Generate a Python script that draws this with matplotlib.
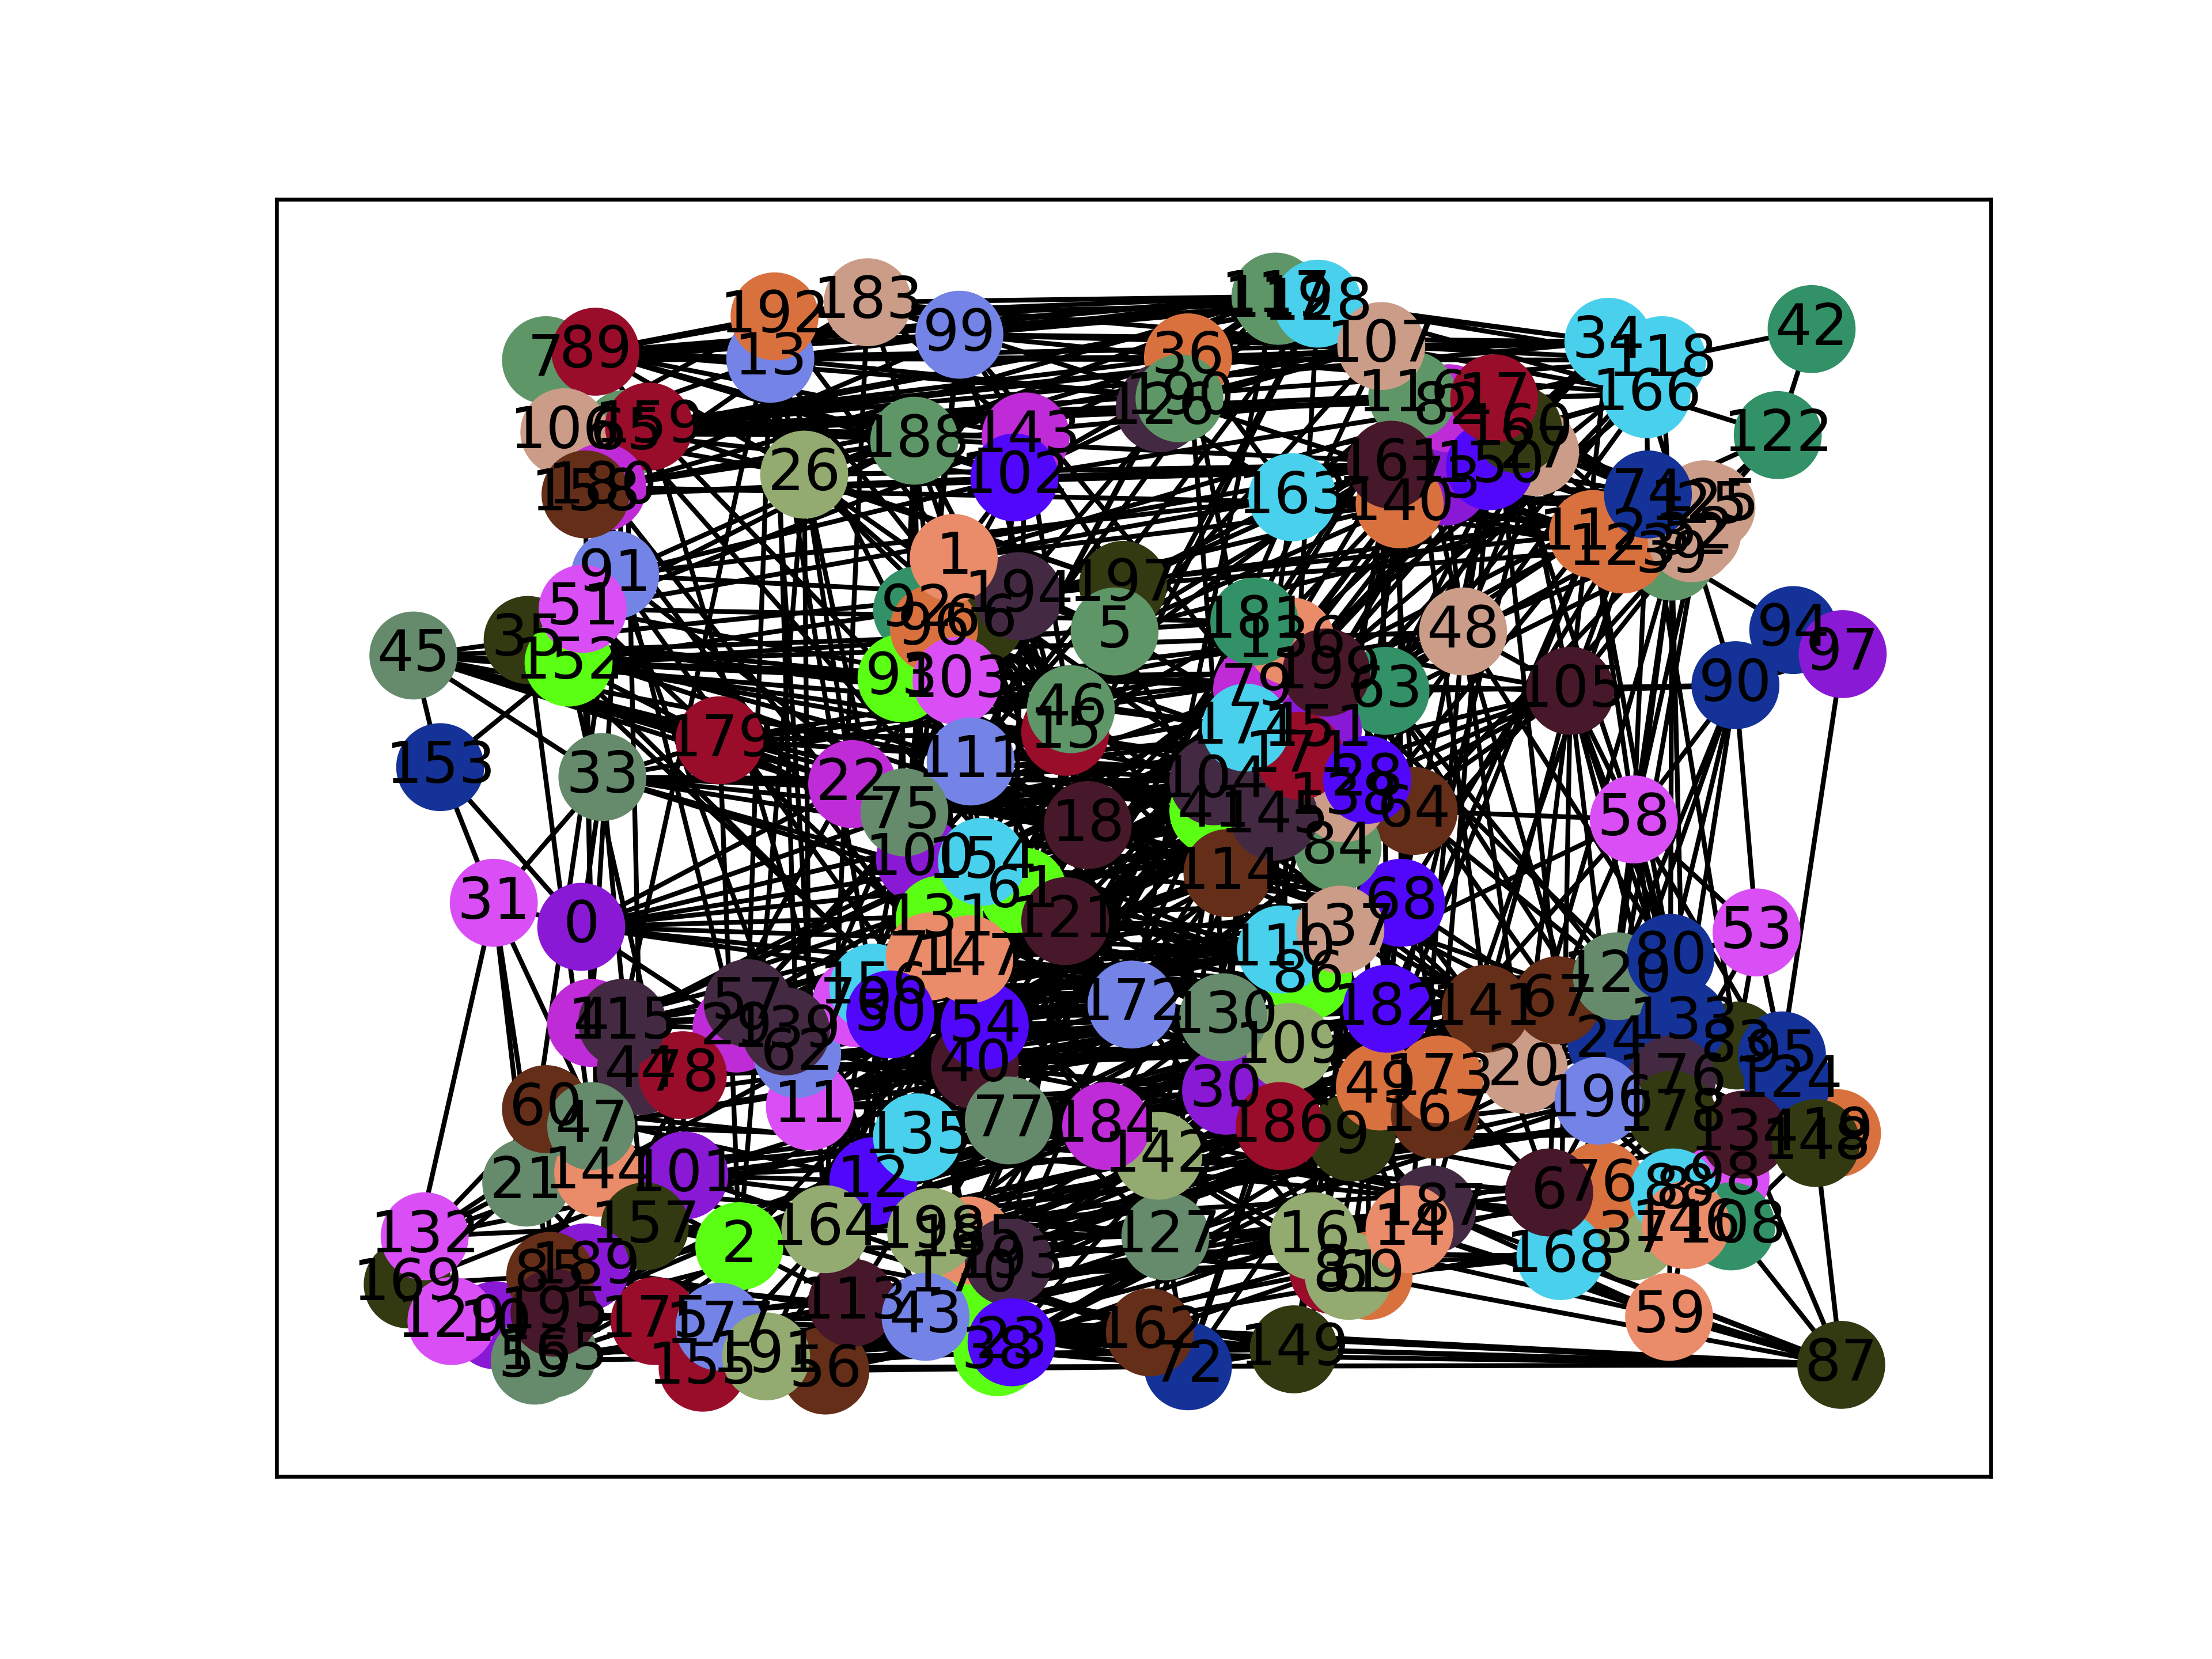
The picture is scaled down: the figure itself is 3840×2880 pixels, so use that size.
import matplotlib
matplotlib.use("Agg")
import matplotlib.pyplot as plt
from matplotlib.collections import LineCollection

# node centres (x to the right, y downwards, frame 196..1411 x 142..1046)
node_x = [
    412, 676, 524, 945, 419, 790, 1098, 387, 1186, 958,
    351, 574, 619, 546, 999, 755, 931, 1059, 771, 1302,
    1080, 373, 604, 717, 1142, 1213, 570, 1088, 969, 522,
    869, 350, 1199, 427, 1140, 374, 842, 1158, 707, 1185,
    691, 860, 1284, 656, 454, 293, 759, 419, 1037, 978,
    631, 413, 1203, 1245, 698, 379, 585, 530, 1158, 1183,
    387, 725, 565, 982, 1002, 444, 695, 1104, 993, 970,
    607, 659, 842, 1024, 1168, 641, 1135, 715, 484, 891,
    1184, 956, 1027, 1231, 948, 390, 927, 1305, 1190, 422,
    1230, 436, 650, 639, 1271, 1263, 662, 1306, 1223, 680,
    652, 485, 719, 678, 860, 1113, 400, 979, 1227, 914,
    908, 688, 1129, 604, 870, 441, 1001, 904, 1178, 906,
    1146, 755, 1260, 1150, 1267, 1208, 822, 826, 934, 320,
    867, 666, 301, 1193, 1236, 650, 915, 950, 952, 557,
    992, 1053, 821, 727, 424, 903, 1195, 687, 1287, 917,
    1056, 934, 403, 312, 696, 498, 619, 457, 415, 460,
    1076, 986, 815, 916, 585, 392, 1167, 1017, 1106, 289,
    683, 921, 802, 1020, 883, 464, 1185, 510, 1185, 510,
    427, 889, 983, 615, 784, 687, 907, 1015, 648, 415,
    836, 543, 549, 715, 722, 393, 1133, 796, 660, 940,
]
node_y = [
    657, 396, 883, 900, 725, 448, 845, 256, 845, 806,
    939, 784, 837, 255, 871, 519, 876, 283, 585, 803,
    758, 838, 556, 951, 738, 360, 337, 321, 553, 729,
    773, 640, 382, 551, 243, 454, 254, 876, 958, 395,
    755, 575, 234, 933, 759, 465, 503, 798, 448, 770,
    719, 432, 378, 661, 727, 964, 971, 711, 581, 933,
    786, 632, 747, 490, 575, 308, 440, 709, 640, 904,
    711, 678, 968, 342, 351, 576, 840, 794, 762, 489,
    679, 904, 290, 741, 601, 904, 692, 967, 843, 250,
    486, 408, 433, 481, 447, 748, 446, 464, 835, 238,
    609, 833, 339, 483, 554, 490, 307, 246, 869, 742,
    673, 540, 379, 923, 619, 725, 281, 211, 256, 214,
    692, 653, 309, 390, 766, 358, 290, 876, 216, 936,
    721, 652, 876, 725, 804, 806, 455, 659, 566, 731,
    358, 715, 819, 310, 831, 579, 868, 680, 810, 956,
    331, 518, 470, 544, 611, 969, 700, 869, 351, 303,
    305, 330, 944, 353, 871, 959, 280, 790, 890, 910,
    904, 536, 712, 765, 516, 936, 765, 940, 790, 525,
    346, 441, 715, 215, 798, 879, 798, 857, 313, 898,
    283, 961, 225, 894, 423, 930, 780, 415, 873, 477,
]

palette = {
    "sage": "#5f9668", "grey": "#668b6c", "crimson": "#990d2b", "tan": "#cb9d88",
    "brown": "#642e19", "magenta": "#bf2bd6", "peri": "#7383e6", "pink": "#d94ff5",
    "olive": "#333a12", "green": "#5aff14", "navy": "#143297", "orange": "#d9713f",
    "lolive": "#93aa70", "violet": "#5108fa", "salmon": "#ea8c6a", "sea": "#329166",
    "cyan": "#48d0ec", "plumA": "#432a42", "plumB": "#46182a", "purple": "#8a19d6",
}
node_color = [
    "purple", "salmon", "green", "crimson", "magenta", "sage", "plumB", "sage", "cyan", "olive",
    "purple", "pink", "violet", "peri", "salmon", "crimson", "lolive", "crimson", "plumB", "orange",
    "tan", "grey", "magenta", "violet", "navy", "tan", "lolive", "tan", "violet", "magenta",
    "purple", "pink", "tan", "grey", "cyan", "olive", "orange", "lolive", "green", "sage",
    "plumB", "green", "sea", "peri", "plumA", "grey", "sage", "grey", "tan", "orange",
    "violet", "pink", "tan", "pink", "violet", "grey", "brown", "plumA", "pink", "salmon",
    "brown", "green", "peri", "sea", "brown", "sage", "olive", "brown", "violet", "orange",
    "pink", "salmon", "navy", "purple", "navy", "grey", "orange", "grey", "crimson", "magenta",
    "navy", "lolive", "magenta", "olive", "sage", "brown", "green", "olive", "cyan", "crimson",
    "navy", "peri", "sea", "green", "navy", "navy", "orange", "purple", "pink", "peri",
    "purple", "purple", "violet", "pink", "plumA", "plumB", "tan", "tan", "sea", "lolive",
    "cyan", "peri", "orange", "plumB", "brown", "plumA", "sage", "sage", "cyan", "sage",
    "grey", "plumB", "sea", "orange", "navy", "tan", "plumA", "grey", "cyan", "pink",
    "grey", "green", "pink", "navy", "plumB", "cyan", "salmon", "tan", "tan", "plumA",
    "orange", "brown", "lolive", "magenta", "salmon", "plumA", "salmon", "salmon", "olive", "olive",
    "violet", "purple", "green", "navy", "cyan", "crimson", "cyan", "olive", "brown", "crimson",
    "olive", "plumB", "brown", "cyan", "lolive", "grey", "cyan", "brown", "cyan", "olive",
    "green", "crimson", "peri", "orange", "cyan", "crimson", "plumA", "peri", "olive", "crimson",
    "magenta", "sea", "violet", "tan", "magenta", "salmon", "crimson", "plumA", "sage", "purple",
    "sage", "lolive", "orange", "plumA", "plumA", "plumB", "peri", "olive", "lolive", "plumB",
]

# nodes that sit above their neighbours in the picture, drawn last in this order
on_top = [51, 47, 102, 1, 5, 75, 71, 50, 28, 80, 32, 74, 17, 161, 107, 158,
          85, 195, 132, 129, 43, 23, 14, 6, 8, 146]

# edges, grouped by one end
neighbours = [
    (0, [33, 68, 110, 22, 172]), (1, [140, 56, 18, 163, 5]), (2, [164, 12, 135, 144, 67]),
    (3, [162, 149, 184, 171]), (4, [115, 139, 65, 77]), (5, [197, 150, 46, 28]),
    (6, [196, 141, 173, 178]), (7, [89, 106, 99, 183, 36]), (8, [98, 134, 146, 176]),
    (9, [186, 30, 109, 64]), (10, [129, 189, 113, 101]), (11, [57, 135, 40, 105]),
    (12, [43, 198, 18, 182]), (13, [192, 99, 26, 111]), (14, [187, 16, 137, 3]),
    (15, [46, 179, 138, 110]), (16, [81, 69, 172, 199]), (17, [116, 107, 82, 74]),
    (18, [121, 61, 84, 151]), (19, [148, 124, 20, 134]), (20, [196, 167, 68, 133]),
    (21, [144, 60, 157, 2]), (22, [75, 179, 151, 86]), (23, [38, 193, 167, 24]),
    (24, [133, 95, 176, 63]), (25, [125, 112, 163]), (26, [188, 22, 15, 197]),
    (27, [160, 150, 140, 39]), (28, [138, 64, 182, 179]), (29, [57, 139, 0, 110]),
    (30, [186, 142, 20, 174]), (31, [153, 0, 33, 85, 21, 157, 169]), (32, [52, 125, 39, 140]),
    (33, [179, 121, 104]), (34, [118, 166, 117, 107, 99]), (35, [152, 51, 111, 18]),
    (36, [190, 117, 13, 163]), (37, [146, 8, 77, 184]), (38, [23, 185, 9, 68]),
    (39, [112, 74, 120, 80]), (40, [54, 77, 121, 167]), (41, [104, 145, 5, 12]),
    (42, [122]), (43, [113, 56, 193, 173]), (44, [78, 4, 131, 172]),
    (45, [153, 33, 152, 35, 179, 22, 75, 18, 111]), (46, [15, 199, 111, 1]),
    (47, [60, 144, 101, 40]), (48, [105, 63, 27, 151]), (49, [173, 9, 182, 101]),
    (50, [156, 70, 54, 109]), (51, [91, 159, 188, 143]), (52, [32, 123, 150, 48]),
    (53, [58, 90, 124, 176]), (54, [40, 147, 141, 92]), (55, [165, 175, 195, 16]),
    (56, [191, 177, 113, 142]), (57, [139, 62, 111, 197]), (58, [90, 80, 105, 64, 20, 120, 9]),
    (59, [87, 146, 178, 14, 16, 187]), (60, [21, 85, 130, 146]), (61, [154, 121, 100, 186]),
    (62, [139, 11, 184, 66]), (63, [199, 181, 28, 90]), (64, [138, 68, 114, 120]),
    (65, [106, 159, 102, 143]), (66, [96, 194, 92, 172]), (67, [141, 120, 6, 185]),
    (68, [182, 137, 84, 24]), (69, [81, 3, 168, 142]), (70, [156, 50, 100]),
    (71, [147, 131, 154, 174]), (72, [162, 149, 127, 49]), (73, [150, 161, 82, 104]),
    (74, [125, 112, 166, 122]), (75, [100, 22, 171, 164]), (76, [6, 168, 83, 40]),
    (77, [184, 135, 142, 195]), (78, [44, 101, 157, 64]), (79, [174, 151, 181, 193]),
    (80, [53, 120, 133, 58]), (81, [3, 187, 30, 198]), (82, [17, 160, 27, 102]),
    (83, [95, 124, 178, 114]), (84, [137, 145, 114, 26]), (85, [189, 195, 10, 157]),
    (86, [110, 182, 130, 1]), (87, [149, 162, 23, 43, 72, 3]), (88, [8, 98, 168, 145]),
    (89, [7, 159, 99, 188, 106, 26, 143, 102]), (90, [105, 94, 58, 97, 133, 24]),
    (91, [51, 180, 102, 121]), (92, [96, 93, 1, 130]), (93, [103, 111, 75, 148]),
    (94, [39, 97]), (95, [124, 176, 97, 53]), (96, [93, 188, 28]),
    (98, [134, 108, 67, 14]), (99, [183, 143, 117, 36]), (100, [154, 61, 75, 182]),
    (101, [144, 12, 157, 86]), (102, [143, 188, 1, 128]), (103, [93, 46, 131, 141]),
    (104, [145, 174, 171, 130]), (105, [48, 176, 136]), (106, [65, 158, 26]),
    (107, [128, 116, 190]), (108, [146, 148, 87, 8]), (109, [130, 172, 187, 72]),
    (110, [137, 86, 145, 14]), (111, [75, 18, 82, 137]), (112, [123, 125, 161, 84]),
    (113, [164, 191, 2, 9]), (114, [145, 84, 171, 185]), (115, [4, 57, 78, 74]),
    (116, [17, 161, 163, 48]), (117, [128, 190, 192, 27]), (118, [166, 42, 39]),
    (119, [117, 128, 36]), (120, [24, 133, 53, 182]), (121, [131, 147, 28, 193]),
    (122, [39, 125, 166]), (123, [32, 161, 74]), (124, [148, 58]),
    (126, [190, 36, 163, 107]), (127, [142, 162, 16, 101]), (128, [34, 111]),
    (129, [132, 169, 85, 157, 189]), (130, [127, 47]), (131, [147, 61, 24]),
    (132, [21, 60, 47, 157, 169, 144]), (133, [176, 141]), (134, [148, 87]),
    (135, [12, 11, 68]), (136, [181, 199, 174, 34]), (137, [196]),
    (138, [84, 99]), (139, [136]), (140, [161, 150, 163, 79]),
    (141, [182, 20, 46]), (142, [184, 30, 2]), (143, [183, 197]),
    (144, [47, 10, 50]), (145, [171, 36]), (146, [37]),
    (147, [105]), (148, [87]), (149, [16, 87]), (150, [161, 5]),
    (151, [171, 174, 22]), (152, [51, 64]), (153, [152, 0]),
    (154, [111, 167]), (155, [175, 177, 191, 135]), (156, [62, 138]),
    (157, [40]), (158, [180, 91, 117]), (159, [197]), (160, [17, 63]),
    (161, [5]), (162, [87]), (163, [197]), (164, [198, 61]),
    (165, [195, 189, 12]), (166, [163]), (167, [173, 187, 11]),
    (168, [196, 87]), (169, [21, 85]), (170, [185, 198, 23, 100]),
    (171, [18]), (172, [154, 121]), (173, [20, 133]), (174, [181, 35]),
    (175, [195, 21, 138]), (176, [80, 83]), (177, [191, 61]),
    (178, [134, 196, 141]), (179, [152, 22]), (180, [65, 183]),
    (181, [199, 54]), (182, [44]), (183, [192, 13, 112]),
    (184, [186, 29]), (185, [141]), (186, [187, 75]), (187, [87]),
    (188, [26, 92]), (189, [102]), (190, [102]), (191, [43, 154]),
    (192, [106]), (193, [185]), (194, [197, 5]), (195, [135]),
]

# long edges running across the drawing
long_edges = [
    (7, 34), (89, 117), (106, 107), (65, 128), (159, 116), (158, 150), (180, 140), (91, 163),
    (51, 161), (35, 112), (45, 5), (152, 63), (33, 84), (179, 136), (192, 128), (183, 107),
    (13, 118), (99, 34), (188, 116), (26, 161), (1, 17), (194, 125), (197, 123), (5, 74),
    (36, 166), (117, 39), (128, 112), (107, 166), (116, 74), (17, 39), (150, 125), (161, 112),
    (140, 74), (163, 32), (21, 77), (144, 184), (101, 142), (157, 127), (85, 162), (189, 72),
    (195, 149), (55, 43), (165, 23), (175, 162), (155, 72), (177, 149), (191, 16), (56, 3),
    (113, 14), (43, 187), (2, 9), (164, 186), (12, 30), (135, 167), (11, 20), (198, 173),
    (185, 196), (170, 168), (193, 6), (38, 76), (23, 146), (0, 182), (4, 141), (115, 67),
    (44, 120), (78, 24), (57, 137), (29, 68), (139, 64), (62, 110), (50, 86), (54, 130),
    (40, 109), (172, 20), (147, 182), (71, 68), (156, 137), (70, 114), (131, 28), (121, 138),
    (61, 64), (154, 84), (100, 145), (75, 104), (22, 171), (111, 151), (18, 79), (15, 181),
    (46, 199), (103, 136), (93, 174), (13, 164), (99, 12), (26, 2), (188, 135), (143, 77),
    (102, 40), (1, 54), (92, 121), (194, 18), (197, 61), (5, 131), (36, 114), (117, 172),
    (128, 110), (107, 182), (116, 141), (17, 67), (150, 68), (161, 86), (140, 137), (163, 130),
    (181, 142), (136, 186), (199, 9), (63, 173), (48, 20), (105, 168), (112, 176), (74, 83),
    (125, 24), (39, 133), (16, 63), (14, 48), (187, 105), (9, 112), (186, 161), (30, 140),
    (49, 27), (173, 150), (167, 74), (20, 39), (127, 181), (142, 199), (184, 151), (77, 79),
    (162, 110), (72, 137), (149, 68), (3, 182), (81, 64), (69, 28), (4, 105), (115, 48),
    (44, 64), (57, 120), (29, 24), (139, 133), (11, 176), (135, 6), (12, 196), (164, 76),
    (2, 168), (198, 178), (43, 134), (65, 172), (159, 130), (158, 54), (180, 184), (91, 77),
    (51, 142), (35, 127), (152, 40), (33, 86), (179, 109), (106, 11), (26, 185), (188, 198),
    (13, 43), (192, 62), (91, 21), (51, 144), (35, 47), (152, 101), (33, 157), (179, 2),
    (180, 29), (158, 4), (65, 44), (159, 12), (26, 11), (13, 57), (192, 115), (183, 164),
    (99, 113), (188, 50), (34, 12), (118, 135), (166, 11), (74, 62), (125, 29), (39, 44),
    (112, 57), (17, 40), (116, 113), (107, 43), (128, 164), (161, 198), (140, 191), (163, 185),
    (150, 2), (73, 170), (105, 0), (48, 33), (63, 22), (136, 179), (199, 93), (79, 0),
    (174, 115), (28, 57), (64, 4), (68, 62), (137, 50), (110, 139), (182, 54), (141, 147),
    (67, 71), (120, 156), (24, 44), (133, 78),
]

# fans from the top-left group and the crowded middle
extra_edges = [
    (159, 150), (159, 17), (159, 107), (159, 34), (159, 166), (159, 188), (159, 143), (65, 118),
    (65, 17), (106, 13), (158, 102), (158, 161), (180, 188), (180, 99), (7, 192), (89, 13),
    (89, 128), (89, 183), (91, 188), (91, 194), (51, 103), (51, 181), (35, 103), (35, 46),
    (152, 181), (152, 28), (152, 48), (152, 105), (152, 92), (45, 93), (45, 103), (45, 46),
    (45, 114), (33, 68), (33, 64), (33, 138), (179, 199), (179, 28), (179, 61), (179, 121),
    (22, 18), (22, 68), (22, 63), (75, 151), (75, 28), (111, 104), (111, 84), (18, 171),
    (18, 68), (100, 68), (100, 130), (154, 86), (61, 110), (61, 182), (121, 137), (121, 110),
    (131, 172), (147, 130), (71, 110), (156, 172), (70, 137), (50, 182), (54, 68), (40, 130),
    (57, 86), (29, 172), (139, 121), (62, 154), (4, 172), (115, 121), (44, 86), (78, 130),
    (0, 145), (0, 84), (11, 172), (12, 141), (135, 182), (77, 182), (184, 141), (142, 67),
    (12, 109), (164, 130), (2, 182), (198, 130), (185, 109), (43, 30), (113, 186), (191, 9),
    (56, 187), (155, 167), (175, 14), (177, 187), (21, 127), (144, 162), (101, 162), (157, 149),
    (85, 149), (195, 72), (165, 162), (55, 149), (10, 142), (129, 184), (189, 77), (132, 77),
    (169, 101), (47, 135), (60, 12), (175, 43), (155, 38), (177, 23), (191, 162), (56, 72),
    (113, 72), (43, 149), (38, 162), (23, 16), (170, 186), (193, 187), (185, 14), (198, 9),
    (164, 142), (87, 38), (87, 14), (105, 80), (105, 133), (105, 24), (58, 133), (58, 176),
    (58, 124), (90, 80), (90, 120), (53, 83), (48, 80), (63, 24), (63, 120), (136, 133),
    (199, 67), (112, 80), (74, 58), (125, 58), (39, 58), (123, 105), (32, 105), (34, 105),
    (166, 90), (118, 63), (17, 58), (160, 105), (27, 63), (150, 48), (73, 48), (161, 64),
    (140, 68), (48, 196), (105, 20), (58, 196), (80, 196), (120, 178), (133, 178), (105, 12),
    (58, 77), (80, 135), (120, 11), (24, 62), (133, 40), (67, 12), (141, 2), (20, 113),
    (196, 43), (176, 77), (178, 164), (134, 135), (34, 121), (118, 18), (166, 28), (74, 68),
    (125, 64), (39, 137), (112, 182), (17, 18), (116, 121), (107, 100), (128, 61), (117, 75),
    (190, 22), (36, 100), (126, 111), (99, 18), (183, 1), (192, 46), (13, 15), (26, 46),
    (188, 15), (143, 18), (7, 117), (89, 190), (106, 36), (65, 126), (159, 128), (180, 107),
    (192, 117), (183, 117), (13, 190), (99, 107), (99, 128), (188, 36), (26, 117), (143, 36),
    (102, 190), (102, 161), (1, 163), (194, 140), (197, 161), (36, 34), (117, 118), (128, 166),
    (107, 118), (116, 125), (17, 166), (82, 118), (160, 74), (27, 125), (150, 39), (73, 74),
    (161, 166), (140, 123), (163, 39),
]

edges = set()
for a, bs in neighbours:
    for b in bs:
        if a != b:
            edges.add((min(a, b), max(a, b)))
for a, b in long_edges + extra_edges:
    if a != b:
        edges.add((min(a, b), max(a, b)))
edges = sorted(edges)

fig, ax = plt.subplots(figsize=(6.4, 4.8), dpi=600)

segs = [[(node_x[a], node_y[a]), (node_x[b], node_y[b])] for a, b in edges]
ax.add_collection(LineCollection(segs, colors="k", linewidths=1.0, zorder=1))

order = [i for i in range(len(node_x)) if i not in on_top] + on_top
ax.scatter([node_x[i] for i in order], [node_y[i] for i in order], s=300,
           c=[palette[node_color[i]] for i in order], zorder=2)
for i in order:
    ax.text(node_x[i], node_y[i], str(i), fontsize=12, ha="center", va="center", zorder=3)

ax.set_xlim(196, 1411)
ax.set_ylim(1046, 142)
ax.tick_params(left=False, bottom=False, labelleft=False, labelbottom=False)

fig.savefig("out.png", dpi=600, facecolor="white")
